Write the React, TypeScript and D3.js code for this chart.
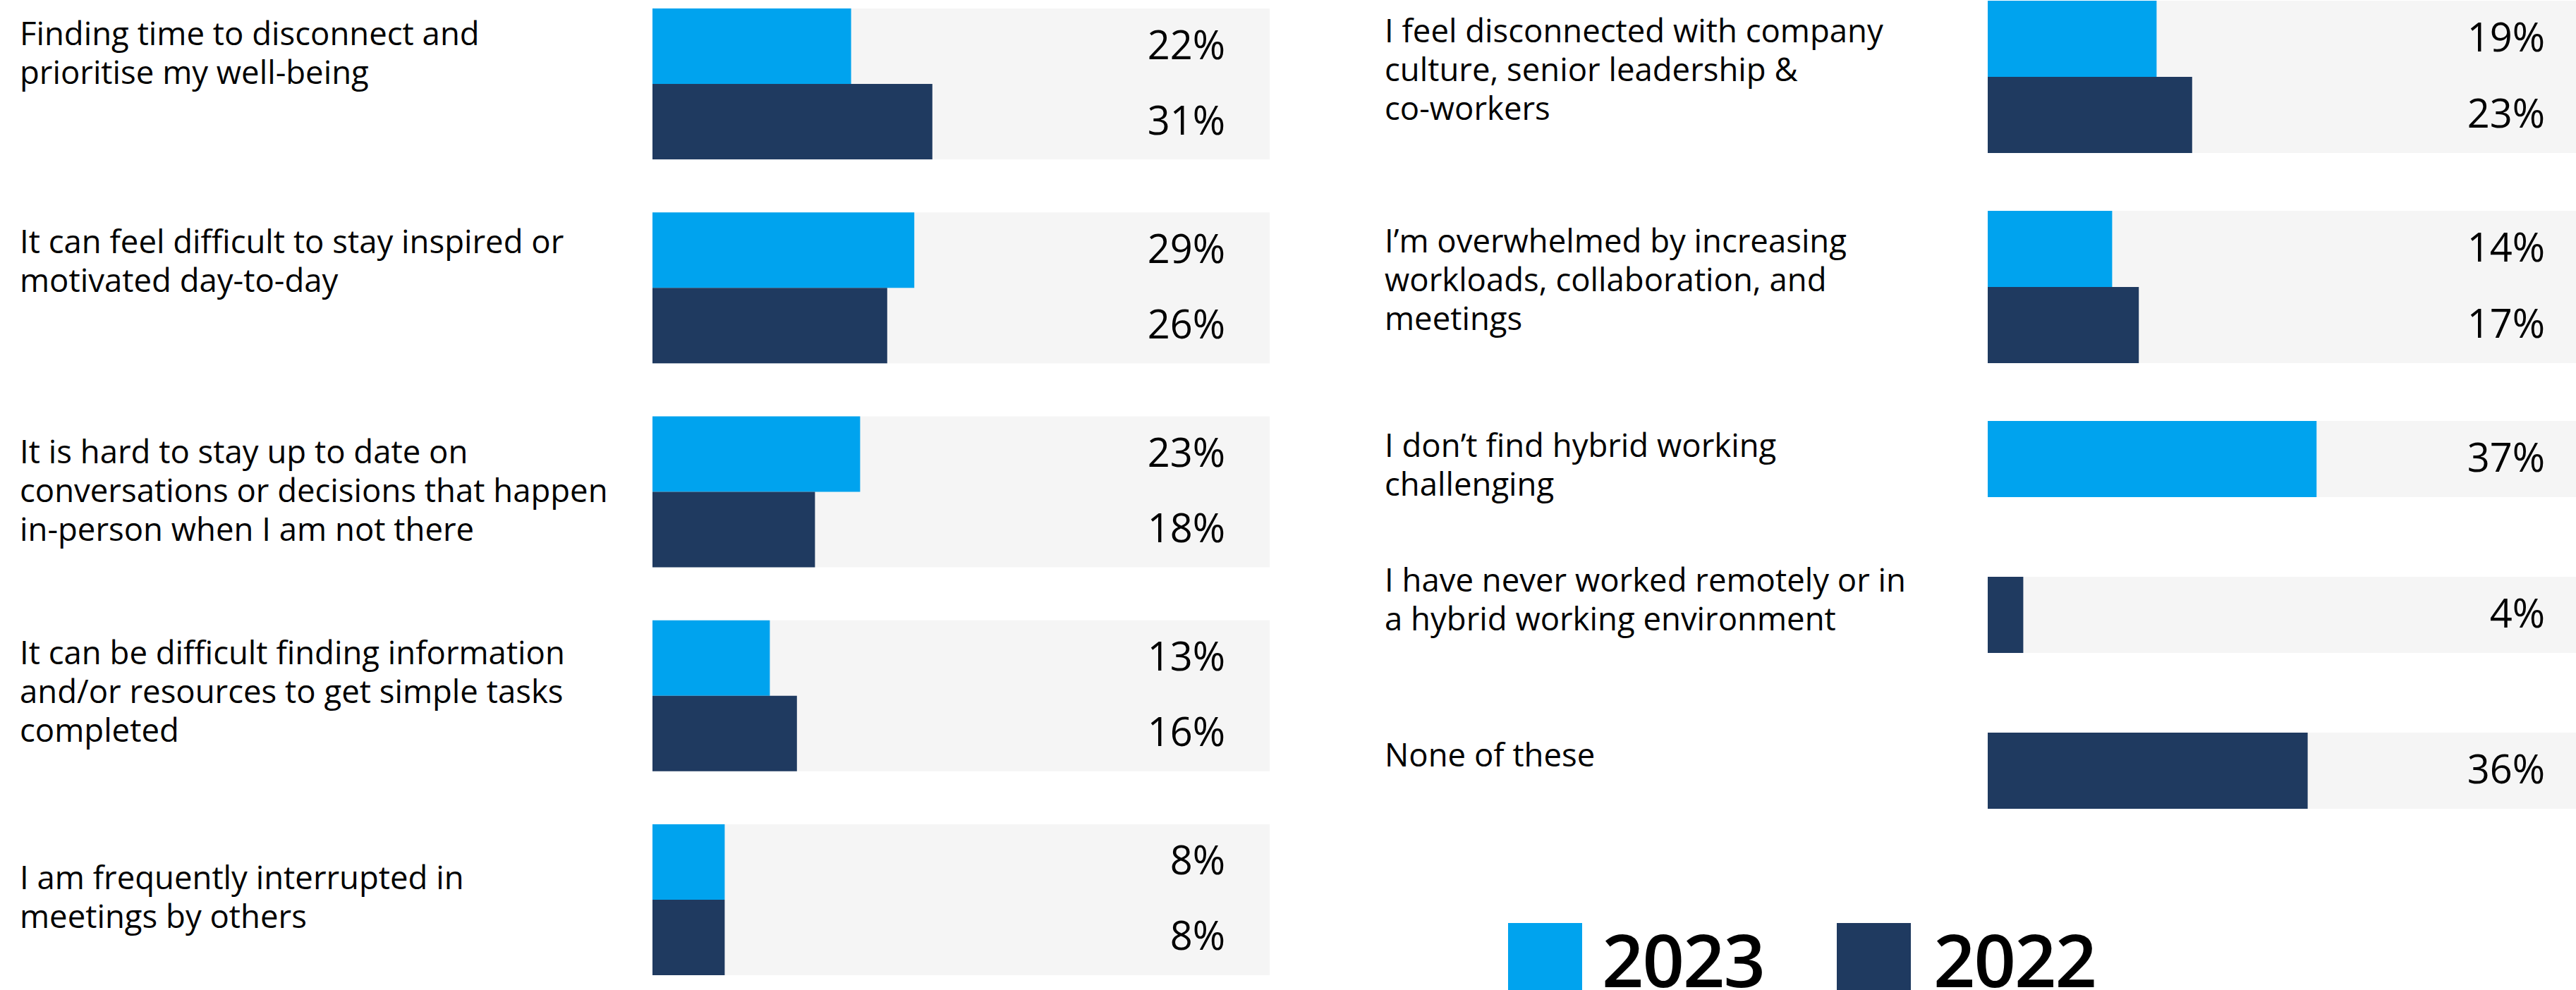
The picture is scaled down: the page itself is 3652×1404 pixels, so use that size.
import React from 'react';
import * as d3 from 'd3';

// ---------- data ----------
const SERIES = ['2023', '2022'];

const LEFT_CATEGORIES = [
  'Finding time to disconnect and\nprioritise my well-being',
  'It can feel difficult to stay inspired or\nmotivated day-to-day',
  'It is hard to stay up to date on\nconversations or decisions that happen\nin-person when I am not there',
  'It can be difficult finding information\nand/or resources to get simple tasks\ncompleted',
  'I am frequently interrupted in\nmeetings by others',
];
const LEFT_2023 = [22, 29, 23, 13, 8];
const LEFT_2022 = [31, 26, 18, 16, 8];

const RIGHT_CATEGORIES = [
  'I feel disconnected with company\nculture, senior leadership &\nco-workers',
  'I\u2019m overwhelmed by increasing\nworkloads, collaboration, and\nmeetings',
  'I don\u2019t find hybrid working\nchallenging',
  'I have never worked remotely or in\na hybrid working environment',
  'None of these',
];
const RIGHT_2023: (number | null)[] = [19, 14, 37, null, null];
const RIGHT_2022: (number | null)[] = [23, 17, null, 4, 36];

// ---------- style / layout ----------
const W = 3652;
const H = 1404;
const COLORS = ['#00A3EE', '#1F3A60'];
const BG = '#F5F5F5';
const FONT = '"Open Sans", "Noto Sans", sans-serif';
const LABEL_SIZE = 45.5;
const LINE_H = 55;
const PCT_SIZE = 56;
const LEFT_LABEL_SHIFT = [-44, -38, -2, -6, -4];
const RIGHT_LABEL_SHIFT = [-10, -10, 8, -22, -22];

type Bar = { s: number; v: number; y: number; h: number };
type Group = { label: string; top: number; height: number; bars: Bar[]; shift: number };

function buildLeft(): Group[] {
  const band = d3
    .scaleBand<string>()
    .domain(LEFT_CATEGORIES)
    .range([12, 1383])
    .paddingInner(0.26)
    .paddingOuter(0);
  const bh = band.bandwidth() / 2;
  return LEFT_CATEGORIES.map((c, i) => {
    const top = band(c) as number;
    const vals = [LEFT_2023[i], LEFT_2022[i]];
    const bars = vals.map((v, s) => ({ s, v, y: top + s * bh, h: bh }));
    return { label: c, top, height: bh * 2, bars, shift: LEFT_LABEL_SHIFT[i] };
  });
}

function buildRight(): Group[] {
  const bh = 108;
  const gap = (n: number) => (n >= 2 ? 82 : 113);
  let top = 1;
  return RIGHT_CATEGORIES.map((c, i) => {
    const vals = [RIGHT_2023[i], RIGHT_2022[i]];
    const bars: Bar[] = [];
    vals.forEach((v, s) => {
      if (v !== null && v !== undefined) {
        bars.push({ s, v, y: top + bars.length * bh, h: bh });
      }
    });
    const g = { label: c, top, height: bars.length * bh, bars, shift: RIGHT_LABEL_SHIFT[i] };
    top += bars.length * bh + gap(bars.length);
    return g;
  });
}

function Panel({
  groups,
  labelX,
  x,
  bgX1,
  pctRight,
}: {
  groups: Group[];
  labelX: number;
  x: d3.ScaleLinear<number, number>;
  bgX1: number;
  pctRight: number;
}) {
  const x0 = x(0);
  return (
    <g>
      {groups.map((g, gi) => {
        const lines = g.label.split('\n');
        const center = g.top + g.height / 2 + g.shift;
        const firstCenter = center - ((lines.length - 1) * LINE_H) / 2;
        return (
          <g key={gi}>
            <rect x={x0} y={g.top} width={bgX1 - x0} height={g.height} fill={BG} />
            {g.bars.map((b, bi) => (
              <rect
                key={bi}
                x={x0}
                y={b.y}
                width={x(b.v) - x0}
                height={b.h}
                fill={COLORS[b.s]}
              />
            ))}
            {g.bars.map((b, bi) => (
              <text
                key={'t' + bi}
                x={pctRight}
                y={b.y + b.h / 2 + PCT_SIZE * 0.357 - 2}
                textAnchor="end"
                fontFamily={FONT}
                fontSize={PCT_SIZE}
                fill="#000"
              >
                {b.v + '%'}
              </text>
            ))}
            <text fontFamily={FONT} fontSize={LABEL_SIZE} fill="#000">
              {lines.map((l, li) => (
                <tspan key={li} x={labelX} y={firstCenter + li * LINE_H + LABEL_SIZE * 0.357}>
                  {l}
                </tspan>
              ))}
            </text>
          </g>
        );
      })}
    </g>
  );
}

export default function App() {
  const left = buildLeft();
  const right = buildRight();
  const xLeft = d3.scaleLinear().domain([0, 100]).range([925, 925 + 1280]);
  const xRight = d3.scaleLinear().domain([0, 100]).range([2818, 2818 + 1260]);

  const legendX = [2138, 2604];
  const legendTextX = [2271, 2741];

  return (
    <svg
      width={W}
      height={H}
      viewBox={`0 0 ${W} ${H}`}
      style={{ position: 'absolute', left: 0, top: 0, display: 'block', background: '#fff' }}
    >
      <rect x={0} y={0} width={W} height={H} fill="#fff" />
      <Panel groups={left} labelX={28} x={xLeft} bgX1={1800} pctRight={1737} />
      <Panel groups={right} labelX={1963} x={xRight} bgX1={3652} pctRight={3608} />
      {SERIES.map((s, i) => (
        <g key={s}>
          <rect x={legendX[i]} y={1309} width={105} height={120} fill={COLORS[i]} />
          <text
            x={legendTextX[i]}
            y={1400}
            fontFamily={FONT}
            fontWeight={600}
            fontSize={104}
            letterSpacing={-2}
            fill="#000"
          >
            {s}
          </text>
        </g>
      ))}
    </svg>
  );
}
